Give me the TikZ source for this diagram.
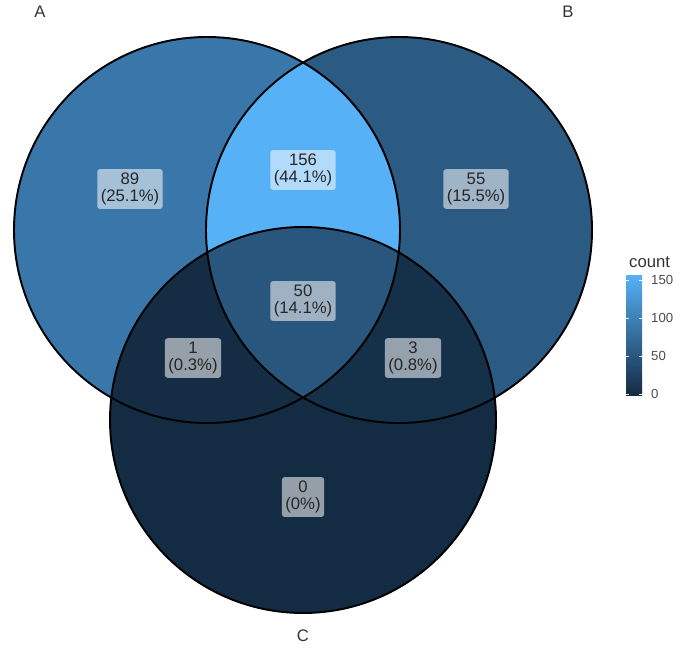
\documentclass[tikz,border=0pt]{standalone}
\usepackage{fontspec}
\setmainfont{Liberation Sans}
\definecolor{regA}{RGB}{57,119,170}
\definecolor{regB}{RGB}{43,90,130}
\definecolor{regAB}{RGB}{86,177,247}
\definecolor{regC}{RGB}{19,43,67}
\definecolor{regAC}{RGB}{20,45,69}
\definecolor{regBC}{RGB}{21,48,73}
\definecolor{regABC}{RGB}{40,86,125}
\definecolor{lowend}{RGB}{19,43,67}
\definecolor{highend}{RGB}{86,177,247}
\begin{document}
\begin{tikzpicture}[x=0.02cm, y=-0.02cm,
    lab/.style={fill=white, fill opacity=0.55, text opacity=1, rounded corners=1.5pt, align=center,
      inner sep=2pt, font=\fontsize{9.5}{10}\selectfont, text=black!85},
    setname/.style={font=\fontsize{9.5}{10}\selectfont, text=black!80},
    ring/.style={draw=black, line width=1.1pt}]
    \useasboundingbox (0,0) rectangle (685,648);
    % Regions
    \fill[regA] (207,230) circle (193);
    \fill[regB] (399,230) circle (193);
    \begin{scope}
        \clip (207,230) circle (193);
        \fill[regAB] (399,230) circle (193);
    \end{scope}
    \fill[regC] (303,420) circle (193);
    \begin{scope}
        \clip (303,420) circle (193);
        \fill[regAC] (207,230) circle (193);
        \fill[regBC] (399,230) circle (193);
        \clip (207,230) circle (193);
        \fill[regABC] (399,230) circle (193);
    \end{scope}
    % Outlines
    \draw[ring] (207,230) circle (193);
    \draw[ring] (399,230) circle (193);
    \draw[ring] (303,420) circle (193);
    % Counts
    \node[lab] (nA) at (130,189) {89\\(25.1\%)};
    \node[lab] (nAB) at (303,170) {156\\(44.1\%)};
    \node[lab] (nB) at (476,189) {55\\(15.5\%)};
    \node[lab] (nABC) at (303,301) {50\\(14.1\%)};
    \node[lab] (nAC) at (193,358) {1\\(0.3\%)};
    \node[lab] (nBC) at (413,358) {3\\(0.8\%)};
    \node[lab] (nC) at (303,497) {0\\(0\%)};
    % Set names
    \node[setname] (setA) at (40,12) {A};
    \node[setname] (setB) at (568,12) {B};
    \node[setname] (setC) at (303,636) {C};
    % Legend
    \node[setname, anchor=west] (legtitle) at (623,262) {count};
    \shade[bottom color=lowend, top color=highend] (626,275) rectangle (642,395);
    \foreach \v/\y in {0/394, 50/356, 100/318, 150/280} {
        \draw[white, line width=0.5pt] (626,\y) -- (629,\y);
        \draw[white, line width=0.5pt] (639,\y) -- (642,\y);
        \node[anchor=west, font=\fontsize{7.5}{8}\selectfont, text=black!70] at (645,\y) {\v};
    }
\end{tikzpicture}
\end{document}
